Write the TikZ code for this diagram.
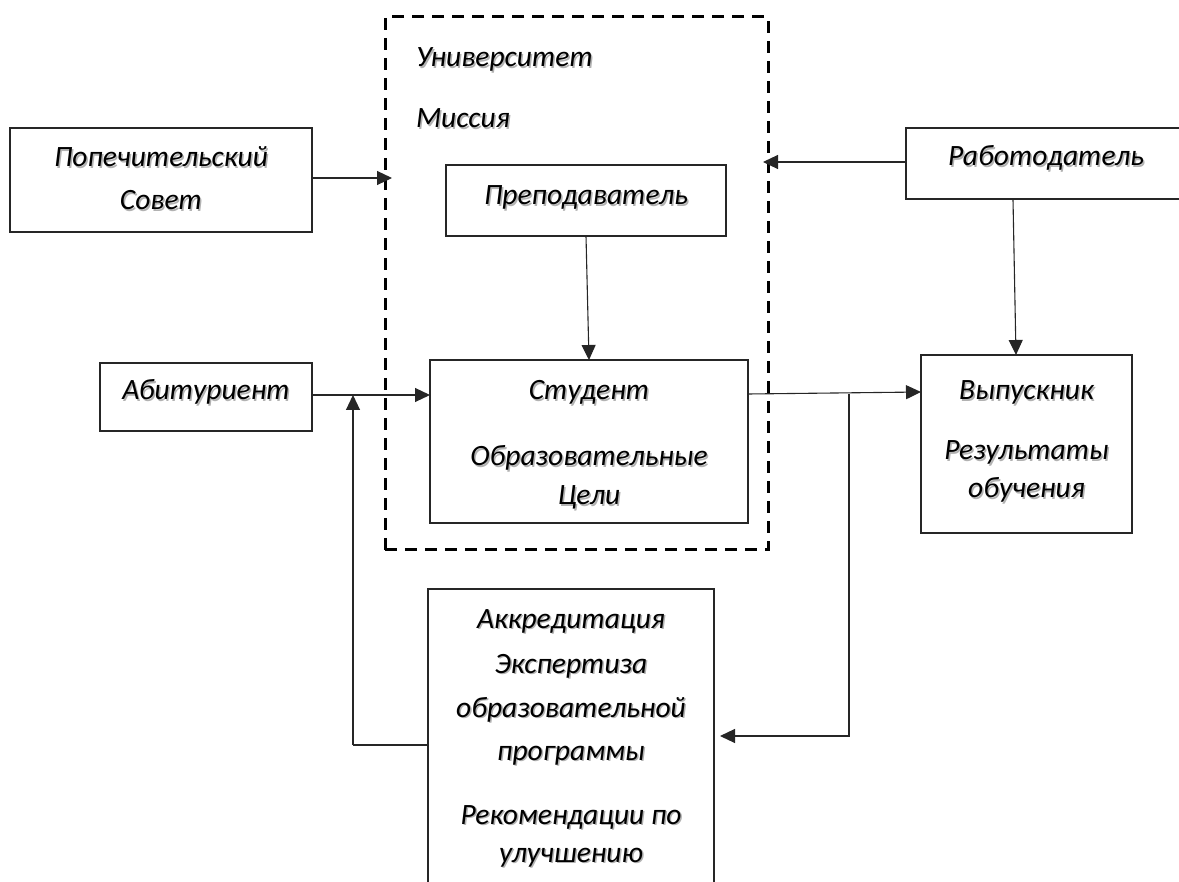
\documentclass[tikz,border=0pt]{standalone}
\usepackage{fontspec}
\setmainfont{Carlito}
\newfontfamily\calfont{Carlito}
\usetikzlibrary{arrows.meta}
\newcommand{\shd}[1]{\makebox[0pt][l]{\hspace{1.5pt}\raisebox{-1.5pt}{\textcolor{black!30}{#1}}}#1}
\tikzset{
  box/.style={draw=black!85, line width=1.1pt, inner sep=0pt, outer sep=0pt},
  dbox/.style={draw=black, line width=3pt, dash pattern=on 12pt off 8pt, inner sep=0pt, outer sep=0pt},
  txt/.style={inner sep=0pt, outer sep=0pt, font=\calfont\itshape\fontsize{29.5}{33}\selectfont, anchor=base},
  conn/.style={draw=black!85, line width=1.1pt},
  arr/.style={conn, -{Triangle[length=15pt,width=14pt]}}
}
\begin{document}
\begin{tikzpicture}[x=1pt,y=-1pt]
\useasboundingbox (0,0) rectangle (1179,882);
\clip (0,0) rectangle (1179,882);
% boxes
\node[box, minimum width=302pt, minimum height=104pt] (pop) at (161,180) {};
\node[dbox, minimum width=383pt, minimum height=533pt] (univ) at (576.5,283.5) {};
\node[box, minimum width=280pt, minimum height=71pt] (prep) at (586,200.5) {};
\node[box, minimum width=318pt, minimum height=163pt] (stud) at (589,441.5) {};
\node[box, minimum width=212pt, minimum height=68pt] (abit) at (206,397) {};
\node[box, minimum width=294pt, minimum height=71pt] (rab) at (1053,163.5) {};
\node[box, minimum width=211pt, minimum height=178pt] (vyp) at (1026.5,444) {};
\node[box, minimum width=286pt, minimum height=311pt] (akk) at (571,744.5) {};
% texts
\node[txt] (tpop1) at (161,167) {\shd{Попечительский}};
\node[txt] (tpop2) at (161,210) {\shd{Совет}};
\node[txt, anchor=base west] (tuniv) at (416,67) {\shd{Университет}};
\node[txt, anchor=base west] (tmis) at (416,128) {\shd{Миссия}};
\node[txt] (tprep) at (586,205) {\shd{Преподаватель}};
\node[txt] (tstud1) at (589,400) {\shd{Студент}};
\node[txt] (tstud2) at (589,466) {\shd{Образовательные}};
\node[txt] (tstud3) at (589,505) {\shd{Цели}};
\node[txt] (tabit) at (206,400) {\shd{Абитуриент}};
\node[txt] (trab) at (1046,166) {\shd{Работодатель}};
\node[txt] (tvyp1) at (1026.5,400) {\shd{Выпускник}};
\node[txt] (tvyp2) at (1026.5,460) {\shd{Результаты}};
\node[txt] (tvyp3) at (1026.5,498) {\shd{обучения}};
\node[txt] (takk1) at (571,628) {\shd{Аккредитация}};
\node[txt] (takk2) at (571,673) {\shd{Экспертиза}};
\node[txt] (takk3) at (571,717) {\shd{образовательной}};
\node[txt] (takk4) at (571,760) {\shd{программы}};
\node[txt] (takk5) at (571,824) {\shd{Рекомендации по}};
\node[txt] (takk6) at (571,862) {\shd{улучшению}};
% connector helper coordinates
\coordinate (pin) at (392,178);
\coordinate (rin) at (763,162);
\coordinate (rout) at (1013,199.5);
\coordinate (vin) at (1016,355);
\coordinate (br) at (849,394);
\coordinate (brd) at (849,736);
\coordinate (akin) at (720,736);
\coordinate (fbx) at (353,745);
\coordinate (fbt) at (353,395);
% connectors
\draw[arr] (pop.east |- pin) -- (pin);
\draw[arr] (rab.west |- rin) -- (rin);
\draw[arr] (prep.south) -- (stud.north);
\draw[arr] (rout) -- (vin);
\draw[arr] (abit.east |- fbt) -- (stud.west |- fbt);
\draw[arr] (stud.east |- br) -- (vyp.west |- 0,392);
\draw[arr] (br) -- (brd) -- (akin);
\draw[conn] (akk.west |- fbx) -- (fbx);
\draw[arr] (fbx) -- (fbt);
\end{tikzpicture}
\end{document}
